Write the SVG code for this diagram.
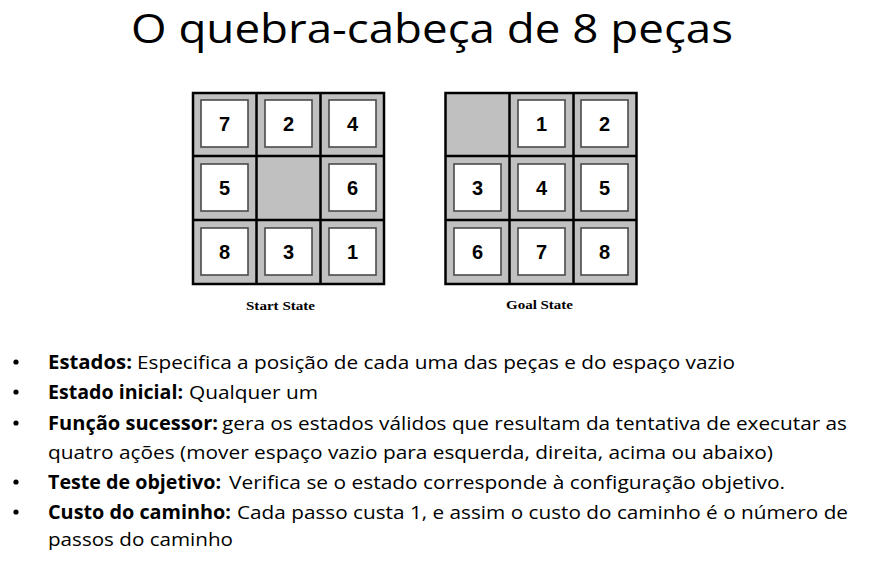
<svg xmlns="http://www.w3.org/2000/svg" width="871" height="571" viewBox="0 0 871 571">
<style>
.title{font-family:"Open Sans","DejaVu Sans",sans-serif;font-size:40px;fill:#000}
.grid{fill:#c0c0c0;stroke:#000;stroke-width:2.5}
.gl{stroke:#000;stroke-width:2.5}
.tile{fill:#fff;stroke:#4a4a4a;stroke-width:1.6}
.num{font-family:"Liberation Sans",Arial,sans-serif;font-weight:bold;font-size:20px;text-anchor:middle;fill:#000}
.cap{font-family:"Liberation Serif","Times New Roman",serif;font-weight:bold;font-size:13px;fill:#000}
.b{font-family:"Open Sans","DejaVu Sans",sans-serif;font-weight:bold;font-size:19px;fill:#000}
.r{font-family:"Open Sans","DejaVu Sans",sans-serif;font-size:19px;fill:#000}
.dot{fill:#000}
</style>
<rect width="871" height="571" fill="#fff"/>
<text class="title" x="131" y="43" textLength="602" lengthAdjust="spacingAndGlyphs">O quebra-cabeça de 8 peças</text>

<g id="start-state">
<rect class="grid" x="193" y="93" width="191" height="191"/>
<line class="gl" x1="256.5" y1="93" x2="256.5" y2="284"/>
<line class="gl" x1="320.5" y1="93" x2="320.5" y2="284"/>
<line class="gl" x1="193" y1="156" x2="384" y2="156"/>
<line class="gl" x1="193" y1="220" x2="384" y2="220"/>
<rect class="tile" x="201" y="100" width="47" height="47"/><text class="num" x="224.5" y="131">7</text>
<rect class="tile" x="265" y="100" width="47" height="47"/><text class="num" x="288.5" y="131">2</text>
<rect class="tile" x="329" y="100" width="47" height="47"/><text class="num" x="352.5" y="131">4</text>
<rect class="tile" x="201" y="164" width="47" height="47"/><text class="num" x="224.5" y="195">5</text>
<rect class="tile" x="329" y="164" width="47" height="47"/><text class="num" x="352.5" y="195">6</text>
<rect class="tile" x="201" y="228" width="47" height="47"/><text class="num" x="224.5" y="259">8</text>
<rect class="tile" x="265" y="228" width="47" height="47"/><text class="num" x="288.5" y="259">3</text>
<rect class="tile" x="329" y="228" width="47" height="47"/><text class="num" x="352.5" y="259">1</text>
<text class="cap" x="246" y="310" textLength="69" lengthAdjust="spacingAndGlyphs">Start State</text>
</g>

<g id="goal-state">
<rect class="grid" x="445.5" y="93" width="191" height="191"/>
<line class="gl" x1="509.5" y1="93" x2="509.5" y2="284"/>
<line class="gl" x1="573.5" y1="93" x2="573.5" y2="284"/>
<line class="gl" x1="445.5" y1="156" x2="636.5" y2="156"/>
<line class="gl" x1="445.5" y1="220" x2="636.5" y2="220"/>
<rect class="tile" x="518" y="100" width="47" height="47"/><text class="num" x="541.5" y="131">1</text>
<rect class="tile" x="581" y="100" width="47" height="47"/><text class="num" x="604.5" y="131">2</text>
<rect class="tile" x="454" y="164" width="47" height="47"/><text class="num" x="477.5" y="195">3</text>
<rect class="tile" x="518" y="164" width="47" height="47"/><text class="num" x="541.5" y="195">4</text>
<rect class="tile" x="581" y="164" width="47" height="47"/><text class="num" x="604.5" y="195">5</text>
<rect class="tile" x="454" y="228" width="47" height="47"/><text class="num" x="477.5" y="259">6</text>
<rect class="tile" x="518" y="228" width="47" height="47"/><text class="num" x="541.5" y="259">7</text>
<rect class="tile" x="581" y="228" width="47" height="47"/><text class="num" x="604.5" y="259">8</text>
<text class="cap" x="506" y="309" textLength="67" lengthAdjust="spacingAndGlyphs">Goal State</text>
</g>

<g id="bullets">
<circle class="dot" cx="16" cy="362" r="2.6"/>
<text class="b" x="48" y="369" textLength="84" lengthAdjust="spacingAndGlyphs">Estados:</text>
<text class="r" x="137" y="369" textLength="598" lengthAdjust="spacingAndGlyphs">Especifica a posição de cada uma das peças e do espaço vazio</text>

<circle class="dot" cx="16" cy="392" r="2.6"/>
<text class="b" x="48" y="399" textLength="135" lengthAdjust="spacingAndGlyphs">Estado inicial:</text>
<text class="r" x="189" y="399" textLength="129" lengthAdjust="spacingAndGlyphs">Qualquer um</text>

<circle class="dot" cx="16" cy="423" r="2.6"/>
<text class="b" x="48" y="430" textLength="170" lengthAdjust="spacingAndGlyphs">Função sucessor:</text>
<text class="r" x="222" y="430" textLength="625" lengthAdjust="spacingAndGlyphs">gera os estados válidos que resultam da tentativa de executar as</text>
<text class="r" x="48" y="459" textLength="725" lengthAdjust="spacingAndGlyphs">quatro ações (mover espaço vazio para esquerda, direita, acima ou abaixo)</text>

<circle class="dot" cx="16" cy="482" r="2.6"/>
<text class="b" x="48" y="489" textLength="173" lengthAdjust="spacingAndGlyphs">Teste de objetivo:</text>
<text class="r" x="229" y="489" textLength="556" lengthAdjust="spacingAndGlyphs">Verifica se o estado corresponde à configuração objetivo.</text>

<circle class="dot" cx="16" cy="512" r="2.6"/>
<text class="b" x="48" y="519" textLength="183" lengthAdjust="spacingAndGlyphs">Custo do caminho:</text>
<text class="r" x="237" y="519" textLength="611" lengthAdjust="spacingAndGlyphs">Cada passo custa 1, e assim o custo do caminho é o número de</text>
<text class="r" x="48" y="546" textLength="185" lengthAdjust="spacingAndGlyphs">passos do caminho</text>
</g>
</svg>
